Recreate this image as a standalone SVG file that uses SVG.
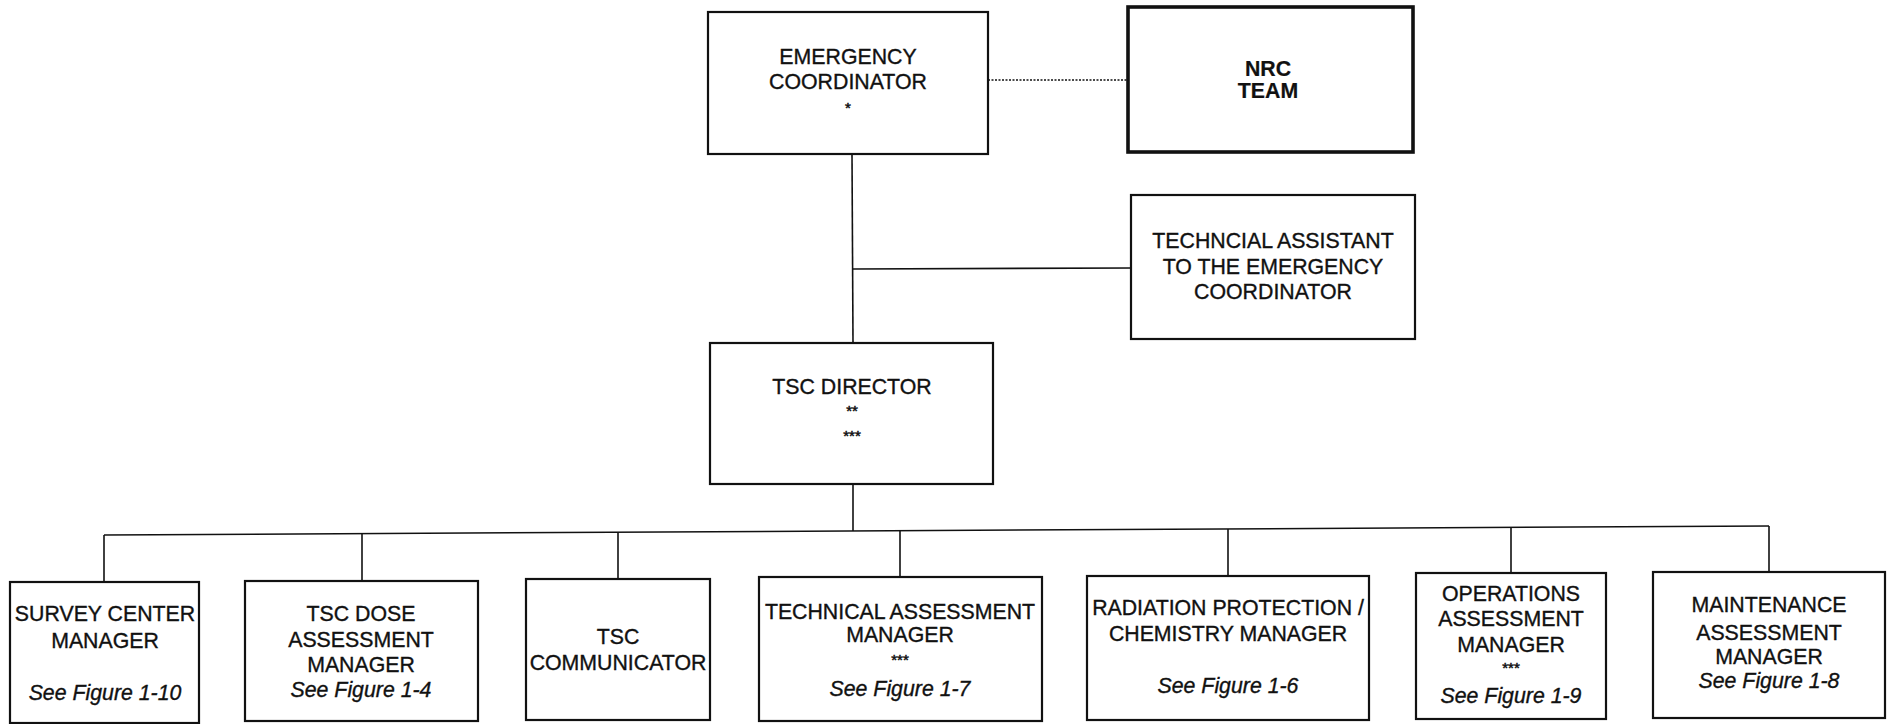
<svg xmlns="http://www.w3.org/2000/svg" width="1887" height="724" viewBox="0 0 1887 724">
  <style>
    .box { fill: #ffffff; stroke: #111111; stroke-width: 2.2; }
    .box-heavy { fill: #ffffff; stroke: #111111; stroke-width: 3.6; }
    .lbl { font-family: "Liberation Sans", Arial, Helvetica, sans-serif; font-size: 21.3px; fill: #111111; stroke: #111111; stroke-width: 0.35; text-anchor: middle; }
    .bold { font-weight: bold; stroke-width: 0.2; }
    .ref { font-style: italic; }
    .star { font-family: "Liberation Sans", Arial, Helvetica, sans-serif; font-size: 15px; fill: #111111; stroke: #111111; stroke-width: 0.5; text-anchor: middle; }
    .wire { fill: none; stroke: #111111; stroke-width: 1.6; }
    .dotted { fill: none; stroke: #111111; stroke-width: 1.6; stroke-dasharray: 2 1.5; }
  </style>
  <rect x="0" y="0" width="1887" height="724" fill="#ffffff"/>

  <!-- connectors -->
  <g id="connectors">
    <line class="dotted" x1="988" y1="80" x2="1128" y2="80"/>
    <line class="wire" x1="852" y1="154" x2="853" y2="343"/>
    <line class="wire" x1="852" y1="269" x2="1131" y2="268"/>
    <line class="wire" x1="853" y1="484" x2="853" y2="531"/>
    <line class="wire" x1="104" y1="535" x2="1769" y2="526"/>
    <line class="wire" x1="104" y1="535" x2="104" y2="582"/>
    <line class="wire" x1="362" y1="533.6" x2="362" y2="581"/>
    <line class="wire" x1="618" y1="532.2" x2="618" y2="579"/>
    <line class="wire" x1="900" y1="530.7" x2="900" y2="577"/>
    <line class="wire" x1="1228" y1="528.9" x2="1228" y2="576"/>
    <line class="wire" x1="1511" y1="527.4" x2="1511" y2="573"/>
    <line class="wire" x1="1769" y1="526" x2="1769" y2="572"/>
  </g>

  <!-- top tier -->
  <g id="emergency-coordinator">
    <rect class="box" x="708" y="12" width="280" height="142"/>
    <text class="lbl" x="848" y="64">EMERGENCY</text>
    <text class="lbl" x="848" y="89">COORDINATOR</text>
    <text class="star" x="848" y="113">*</text>
  </g>

  <g id="nrc-team">
    <rect class="box-heavy" x="1128" y="7" width="285" height="145"/>
    <text class="lbl bold" x="1268" y="76">NRC</text>
    <text class="lbl bold" x="1268" y="98">TEAM</text>
  </g>

  <g id="technical-assistant">
    <rect class="box" x="1131" y="195" width="284" height="144"/>
    <text class="lbl" x="1273" y="248">TECHNCIAL ASSISTANT</text>
    <text class="lbl" x="1273" y="274">TO THE EMERGENCY</text>
    <text class="lbl" x="1273" y="299">COORDINATOR</text>
  </g>

  <g id="tsc-director">
    <rect class="box" x="710" y="343" width="283" height="141"/>
    <text class="lbl" x="852" y="394">TSC DIRECTOR</text>
    <text class="star" x="852" y="416">**</text>
    <text class="star" x="852" y="441">***</text>
  </g>

  <!-- managers -->
  <g id="survey-center-manager">
    <rect class="box" x="10" y="582" width="189" height="141"/>
    <text class="lbl" x="105" y="621">SURVEY CENTER</text>
    <text class="lbl" x="105" y="648">MANAGER</text>
    <text class="lbl ref" x="105" y="700">See Figure 1-10</text>
  </g>

  <g id="tsc-dose-assessment-manager">
    <rect class="box" x="245" y="581" width="233" height="140"/>
    <text class="lbl" x="361" y="621">TSC DOSE</text>
    <text class="lbl" x="361" y="647">ASSESSMENT</text>
    <text class="lbl" x="361" y="672">MANAGER</text>
    <text class="lbl ref" x="361" y="697">See Figure 1-4</text>
  </g>

  <g id="tsc-communicator">
    <rect class="box" x="526" y="579" width="184" height="141"/>
    <text class="lbl" x="618" y="644">TSC</text>
    <text class="lbl" x="618" y="670">COMMUNICATOR</text>
  </g>

  <g id="technical-assessment-manager">
    <rect class="box" x="759" y="577" width="283" height="144"/>
    <text class="lbl" x="900" y="619">TECHNICAL ASSESSMENT</text>
    <text class="lbl" x="900" y="642">MANAGER</text>
    <text class="star" x="900" y="665">***</text>
    <text class="lbl ref" x="900" y="696">See Figure 1-7</text>
  </g>

  <g id="radiation-protection-chemistry-manager">
    <rect class="box" x="1087" y="576" width="282" height="144"/>
    <text class="lbl" x="1228" y="615">RADIATION PROTECTION /</text>
    <text class="lbl" x="1228" y="641">CHEMISTRY MANAGER</text>
    <text class="lbl ref" x="1228" y="693">See Figure 1-6</text>
  </g>

  <g id="operations-assessment-manager">
    <rect class="box" x="1416" y="573" width="190" height="146"/>
    <text class="lbl" x="1511" y="601">OPERATIONS</text>
    <text class="lbl" x="1511" y="626">ASSESSMENT</text>
    <text class="lbl" x="1511" y="652">MANAGER</text>
    <text class="star" x="1511" y="673">***</text>
    <text class="lbl ref" x="1511" y="703">See Figure 1-9</text>
  </g>

  <g id="maintenance-assessment-manager">
    <rect class="box" x="1653" y="572" width="232" height="146"/>
    <text class="lbl" x="1769" y="612">MAINTENANCE</text>
    <text class="lbl" x="1769" y="640">ASSESSMENT</text>
    <text class="lbl" x="1769" y="664">MANAGER</text>
    <text class="lbl ref" x="1769" y="688">See Figure 1-8</text>
  </g>
</svg>
